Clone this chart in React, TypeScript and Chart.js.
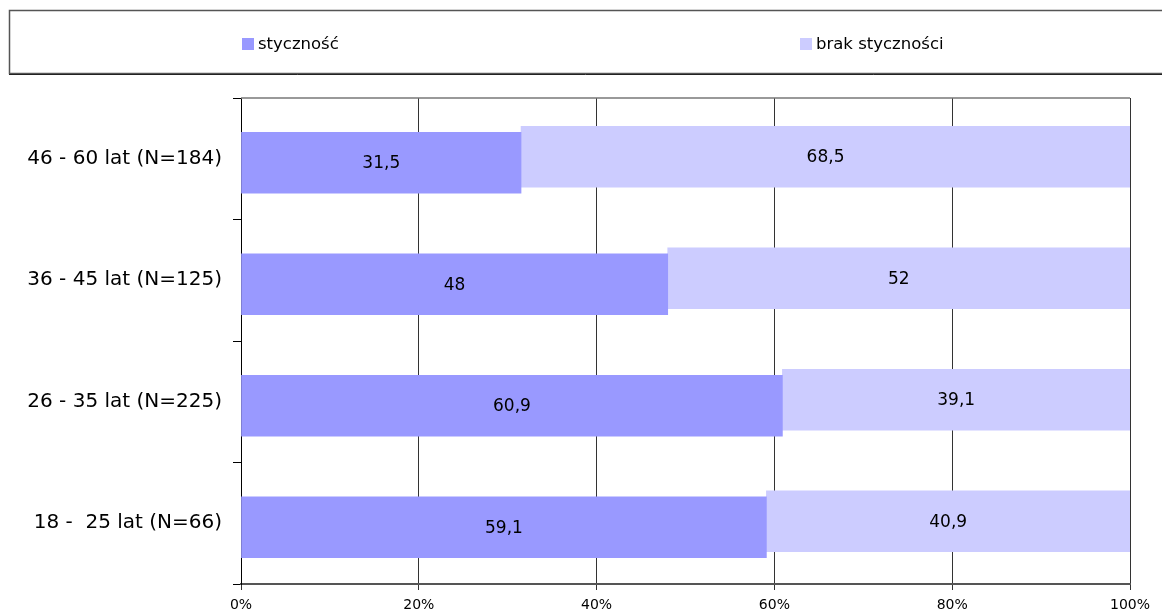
import React, { useEffect, useRef } from "react";
import { Chart, registerables } from "chart.js";

Chart.register(...registerables);

// Age groups, top to bottom
const categories = [
  "46 - 60 lat (N=184)",
  "36 - 45 lat (N=125)",
  "26 - 35 lat (N=225)",
  "18 -  25 lat (N=66)",
];

const seriesNames = ["styczność", "brak styczności"];
const contactValues = [31.5, 48, 60.9, 59.1];
const noContactValues = [68.5, 52, 39.1, 40.9];
const seriesColors = ["#9999FF", "#CCCCFF"];

const xTickStep = 20;
const xMax = 100;

// Vertical offset of each series' bars, in pixels
const seriesShift = [4, -2];

const FONT = "DejaVu Sans";

const fmt = (v: number) => String(v).replace(".", ",");

const shiftPlugin = {
  id: "seriesShift",
  beforeDatasetDraw(chart: any, args: any) {
    chart.ctx.save();
    chart.ctx.translate(0, seriesShift[args.index] || 0);
  },
  afterDatasetDraw(chart: any) {
    chart.ctx.restore();
  },
};

const valueLabels = {
  id: "valueLabels",
  afterDatasetsDraw(chart: any) {
    const ctx = chart.ctx;
    ctx.save();
    ctx.font = `17px "${FONT}"`;
    ctx.fillStyle = "#000";
    ctx.textAlign = "center";
    ctx.textBaseline = "middle";
    chart.data.datasets.forEach((ds: any, i: number) => {
      const meta = chart.getDatasetMeta(i);
      meta.data.forEach((bar: any, j: number) => {
        const p = bar.getProps(["x", "y", "base"], true);
        const cx = (p.x + p.base) / 2;
        const cy = p.y + (seriesShift[i] || 0) + 1;
        ctx.fillText(fmt(ds.data[j]), cx, cy);
      });
    });
    ctx.restore();
  },
};

const frameAndLegend = {
  id: "frameAndLegend",
  afterDraw(chart: any) {
    const ctx = chart.ctx;
    const area = chart.chartArea;
    ctx.save();
    // top border of the plot
    ctx.strokeStyle = "#777";
    ctx.lineWidth = 1.5;
    ctx.beginPath();
    ctx.moveTo(area.left, area.top);
    ctx.lineTo(area.right, area.top);
    ctx.stroke();

    // legend box
    ctx.strokeStyle = "#555";
    ctx.lineWidth = 1.5;
    ctx.strokeRect(9.5, 10.5, 1170, 63);
    ctx.strokeStyle = "#222";
    ctx.lineWidth = 1;
    ctx.beginPath();
    ctx.moveTo(9, 74.5);
    ctx.lineTo(1162, 74.5);
    ctx.stroke();

    const items = [
      { x: 242, text: seriesNames[0], color: seriesColors[0] },
      { x: 800, text: seriesNames[1], color: seriesColors[1] },
    ];
    ctx.font = `16.5px "${FONT}"`;
    ctx.textAlign = "left";
    ctx.textBaseline = "middle";
    items.forEach((it) => {
      ctx.fillStyle = it.color;
      ctx.fillRect(it.x, 38, 12, 12);
      ctx.fillStyle = "#000";
      ctx.fillText(it.text, it.x + 16, 45);
    });
    ctx.restore();
  },
};

export default function App() {
  const ref = useRef<HTMLCanvasElement | null>(null);

  useEffect(() => {
    if (!ref.current) return;
    Chart.defaults.font.family = FONT;
    const chart = new Chart(ref.current, {
      type: "bar",
      data: {
        labels: categories,
        datasets: [
          {
            label: seriesNames[0],
            data: contactValues,
            backgroundColor: seriesColors[0],
            barThickness: 61,
          },
          {
            label: seriesNames[1],
            data: noContactValues,
            backgroundColor: seriesColors[1],
            barThickness: 61,
          },
        ],
      },
      options: {
        indexAxis: "y",
        responsive: false,
        animation: false,
        devicePixelRatio: 1,
        layout: { padding: { top: 98, right: 32, bottom: 0, left: 0 } },
        plugins: {
          legend: { display: false },
          tooltip: { enabled: false },
        },
        scales: {
          x: {
            type: "linear",
            stacked: true,
            min: 0,
            max: xMax,
            ticks: {
              stepSize: xTickStep,
              callback: (v: any) => `${v}%`,
              font: { family: FONT, size: 14 },
              color: "#000",
              padding: 7,
              maxRotation: 0,
            },
            grid: { color: "#333", lineWidth: 1, tickLength: 6 },
            border: { color: "#555", width: 2 },
            afterFit: (s: any) => {
              s.height = 31;
            },
          },
          y: {
            type: "category",
            stacked: true,
            ticks: {
              font: { family: FONT, size: 20 },
              color: "#000",
              padding: 11,
            },
            grid: {
              drawOnChartArea: false,
              tickLength: 8,
              color: "#000",
              offset: true,
            },
            border: { color: "#000", width: 1 },
            afterFit: (s: any) => {
              s.width = 241;
            },
          },
        },
      },
      plugins: [shiftPlugin, valueLabels, frameAndLegend],
    });
    return () => chart.destroy();
  }, []);

  return (
    <div style={{ position: "absolute", left: 0, top: 0, width: 1162, height: 615, background: "#fff" }}>
      <canvas ref={ref} width={1162} height={615} />
    </div>
  );
}
